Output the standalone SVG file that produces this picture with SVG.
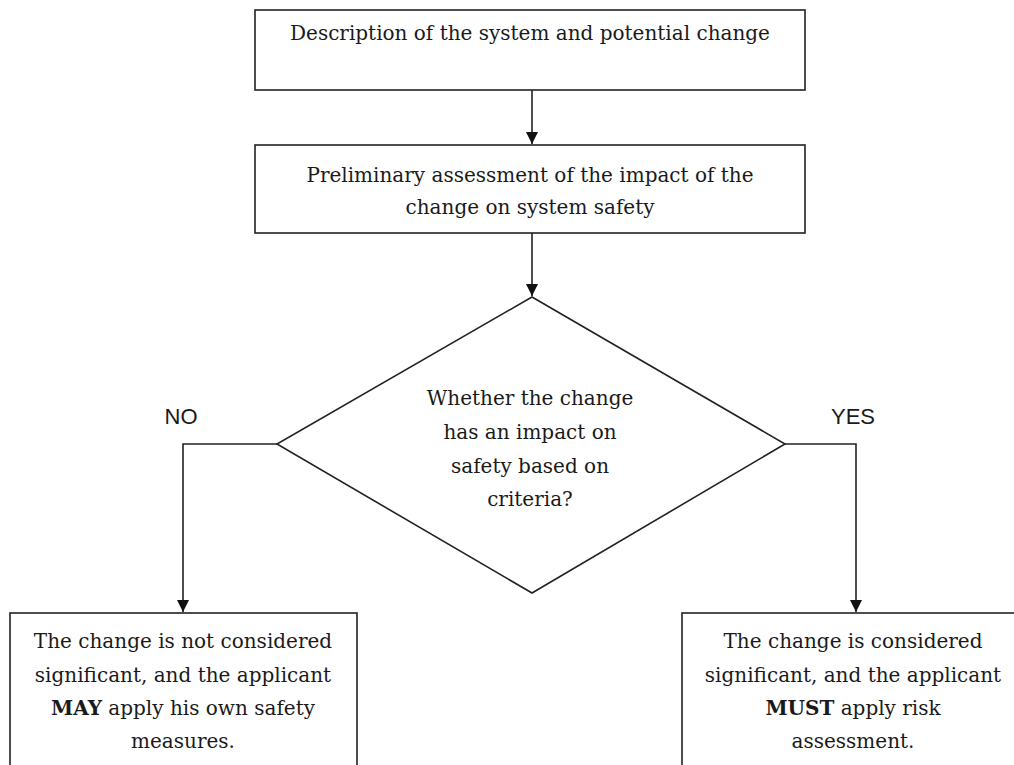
<svg xmlns="http://www.w3.org/2000/svg" width="1014" height="765" viewBox="0 0 1014 765">
<defs>
<style>
.box{fill:#fff;stroke:#222;stroke-width:1.6}
.ln{fill:none;stroke:#222;stroke-width:1.6}
.t{font-family:"DejaVu Serif","Liberation Serif",serif;font-size:20px;fill:#1a1a1a;text-anchor:middle}
.b{font-weight:bold}
.lab{font-family:"Liberation Sans",Arial,sans-serif;font-size:22px;fill:#1a1a1a;text-anchor:middle}
</style>
<marker id="ah" markerWidth="12" markerHeight="12" viewBox="0 0 12 12" refX="12" refY="6" orient="auto" markerUnits="userSpaceOnUse">
<path d="M0,0 L12,6 L0,12 Z" fill="#111"/>
</marker>
</defs>
<rect width="1014" height="765" fill="#fff"/>
<g id="n1">
<rect class="box" x="255" y="10" width="550" height="80"/>
<text class="t" x="530" y="40">Description of the system and potential change</text>
</g>
<g id="n2">
<rect class="box" x="255" y="145" width="550" height="88"/>
<text class="t" x="530" y="182">Preliminary assessment of the impact of the</text>
<text class="t" x="530" y="214">change on system safety</text>
</g>
<g id="n3">
<polygon class="box" points="532,297 785,444 532,593 277,444"/>
<text class="t" x="530" y="405">Whether the change</text>
<text class="t" x="530" y="439">has an impact on</text>
<text class="t" x="530" y="473">safety based on</text>
<text class="t" x="530" y="506">criteria?</text>
</g>
<g id="n4">
<rect class="box" x="10" y="613" width="347" height="170"/>
<text class="t" x="183" y="648">The change is not considered</text>
<text class="t" x="183" y="682">significant, and the applicant</text>
<text class="t" x="183" y="715"><tspan class="b">MAY</tspan> apply his own safety</text>
<text class="t" x="183" y="748">measures.</text>
</g>
<g id="n5">
<rect class="box" x="682" y="613" width="350" height="170"/>
<text class="t" x="853" y="648">The change is considered</text>
<text class="t" x="853" y="682">significant, and the applicant</text>
<text class="t" x="853" y="715"><tspan class="b">MUST</tspan> apply risk</text>
<text class="t" x="853" y="748">assessment.</text>
</g>
<g id="connectors">
<line class="ln" x1="532" y1="90" x2="532" y2="144" marker-end="url(#ah)"/>
<line class="ln" x1="532" y1="233" x2="532" y2="296" marker-end="url(#ah)"/>
<polyline class="ln" points="277,444 183,444 183,612" marker-end="url(#ah)"/>
<polyline class="ln" points="785,444 856,444 856,612" marker-end="url(#ah)"/>
<text class="lab" x="181" y="424">NO</text>
<text class="lab" x="853" y="424">YES</text>
</g>
</svg>
